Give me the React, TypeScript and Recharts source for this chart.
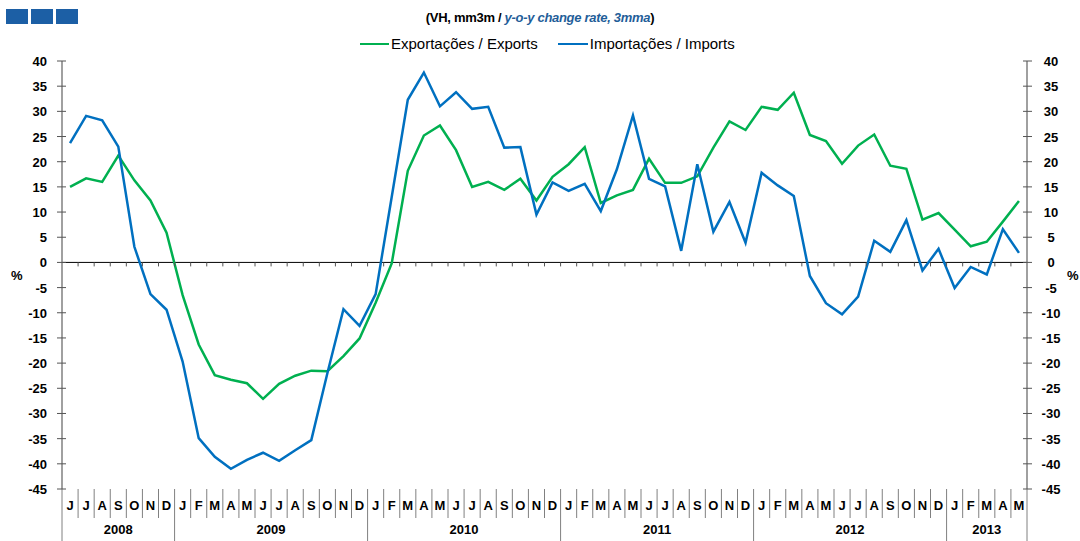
import React from "react";
import { LineChart, Line, XAxis, YAxis, ReferenceLine } from "recharts";

// monthly labels, Jun 2008 .. May 2013
const monthLetters = [
  "J", "J", "A", "S", "O", "N", "D",
  "J", "F", "M", "A", "M", "J", "J", "A", "S", "O", "N", "D",
  "J", "F", "M", "A", "M", "J", "J", "A", "S", "O", "N", "D",
  "J", "F", "M", "A", "M", "J", "J", "A", "S", "O", "N", "D",
  "J", "F", "M", "A", "M", "J", "J", "A", "S", "O", "N", "D",
  "J", "F", "M", "A", "M",
];

const yearLabels = ["2008", "2009", "2010", "2011", "2012", "2013"];
const monthsPerYear = [7, 12, 12, 12, 12, 5];

const exportsYoY = [
  15.0, 16.7, 16.0, 21.2, 16.3, 12.3, 5.9,
  -6.5, -16.3, -22.4, -23.3, -24.0, -27.1, -24.1, -22.5, -21.5, -21.6, -18.6, -15.1,
  -8.0, -0.2, 18.2, 25.2, 27.2, 22.3, 15.0, 16.0, 14.4, 16.6, 12.3, 17.0,
  19.5, 22.9, 11.8, 13.3, 14.4, 20.6, 15.8, 15.8, 17.1, 22.8, 28.0, 26.3,
  30.9, 30.3, 33.7, 25.3, 24.1, 19.6, 23.2, 25.4, 19.2, 18.6, 8.5, 9.8,
  6.5, 3.2, 4.1, 8.1, 12.2,
];

const importsYoY = [
  23.7, 29.1, 28.2, 23.0, 3.1, -6.3, -9.4,
  -19.7, -34.9, -38.6, -41.0, -39.2, -37.8, -39.4, -37.3, -35.3, -22.0, -9.3, -12.6,
  -6.3, 13.0, 32.3, 37.7, 31.0, 33.8, 30.5, 30.9, 22.8, 22.9, 9.5, 15.9,
  14.2, 15.6, 10.2, 18.5, 29.2, 16.6, 15.1, 2.3, 19.5, 6.1, 12.0, 3.9,
  17.8, 15.3, 13.2, -2.7, -8.1, -10.3, -6.8, 4.3, 2.1, 8.4, -1.6, 2.7,
  -5.1, -0.9, -2.4, 6.6, 1.9,
];

const yTicks = [-45, -40, -35, -30, -25, -20, -15, -10, -5, 0, 5, 10, 15, 20, 25, 30, 35, 40];

const W = 1080;
const H = 541;
const PLOT_LEFT = 62;
const PLOT_RIGHT = 1027;
const PLOT_TOP = 61;
const PLOT_BOTTOM = 489;
const Y_MIN = -45;
const Y_MAX = 40;
const BW = (PLOT_RIGHT - PLOT_LEFT) / monthLetters.length;
const ZERO_Y = PLOT_TOP + ((Y_MAX - 0) / (Y_MAX - Y_MIN)) * (PLOT_BOTTOM - PLOT_TOP);

const GREEN = "#00b050";
const BLUE = "#0070c0";
const FONT = "'Liberation Sans', Arial, sans-serif";

const yearStarts: number[] = [];
monthsPerYear.reduce((acc, n) => {
  yearStarts.push(acc);
  return acc + n;
}, 0);

const data = monthLetters.map((m, i) => ({
  key: String(i),
  exp: exportsYoY[i],
  imp: importsYoY[i],
}));

const MonthTick = (props: any) => {
  const { x, payload } = props;
  const i = Number(payload.value);
  const right = x + BW / 2;
  const left = x - BW / 2;
  const isLast = i === monthLetters.length - 1;
  const yearIdx = yearStarts.indexOf(i);
  const yearEnd = yearStarts.includes(i + 1) || isLast;
  return (
    <g>
      {i === 0 && <line x1={left} x2={left} y1={PLOT_BOTTOM} y2={H} stroke="#808080" strokeWidth={1} />}
      <line
        x1={right}
        x2={right}
        y1={PLOT_BOTTOM}
        y2={yearEnd ? H : 518}
        stroke="#808080"
        strokeWidth={1}
      />
      {!isLast && <line x1={right} x2={right} y1={ZERO_Y} y2={ZERO_Y + 4} stroke="#555" strokeWidth={1} />}
      <text x={x} y={510} textAnchor="middle" fontSize={13} fontWeight="bold" fontFamily={FONT} fill="#000">
        {monthLetters[i]}
      </text>
      {yearIdx >= 0 && (
        <text
          x={left + (monthsPerYear[yearIdx] * BW) / 2}
          y={534}
          textAnchor="middle"
          fontSize={13}
          fontWeight="bold"
          fontFamily={FONT}
          fill="#000"
        >
          {yearLabels[yearIdx]}
        </text>
      )}
    </g>
  );
};

const LeftTick = (props: any) => {
  const { y, payload } = props;
  return (
    <g>
      <line x1={PLOT_LEFT - 5} x2={PLOT_LEFT + 4} y1={y} y2={y} stroke="#555" strokeWidth={1} />
      <text x={PLOT_LEFT - 15} y={y + 5} textAnchor="end" fontSize={13} fontWeight="bold" fontFamily={FONT} fill="#000">
        {payload.value}
      </text>
    </g>
  );
};

const RightTick = (props: any) => {
  const { y, payload } = props;
  return (
    <g>
      <line x1={PLOT_RIGHT - 4} x2={PLOT_RIGHT + 5} y1={y} y2={y} stroke="#555" strokeWidth={1} />
      <text x={PLOT_RIGHT + 24} y={y + 5} textAnchor="middle" fontSize={13} fontWeight="bold" fontFamily={FONT} fill="#000">
        {payload.value}
      </text>
    </g>
  );
};

export default function App() {
  return (
    <div style={{ position: "absolute", left: 0, top: 0, width: W, height: H, background: "#fff", fontFamily: FONT }}>
      {/* header squares */}
      <div style={{ position: "absolute", left: 6, top: 9, display: "flex", gap: 3 }}>
        {[0, 1, 2].map((k) => (
          <div key={k} style={{ width: 22, height: 15, background: "#1c5fa5" }} />
        ))}
      </div>

      <div
        style={{
          position: "absolute",
          left: 0,
          width: W,
          top: 10,
          textAlign: "center",
          fontSize: 13,
          fontWeight: "bold",
          color: "#000",
          lineHeight: "16px",
          letterSpacing: -0.3,
        }}
      >
        <span>(VH, mm3m / </span>
        <span style={{ color: "#1f5e99", fontStyle: "italic" }}>y-o-y change rate, 3mma</span>
        <span>)</span>
      </div>

      {/* legend */}
      <div
        style={{
          position: "absolute",
          top: 35,
          left: 360,
          display: "flex",
          alignItems: "center",
          fontSize: 15,
          color: "#000",
          lineHeight: "18px",
        }}
      >
        <span style={{ display: "inline-block", width: 29, height: 2.5, background: GREEN, marginRight: 2 }} />
        <span>Exportações / Exports</span>
        <span style={{ display: "inline-block", width: 30, height: 2.5, background: BLUE, marginLeft: 20, marginRight: 2 }} />
        <span>Importações / Imports</span>
      </div>

      <div style={{ position: "absolute", left: 11, top: 268, fontSize: 13, fontWeight: "bold" }}>%</div>
      <div style={{ position: "absolute", left: 1067, top: 268, fontSize: 13, fontWeight: "bold" }}>%</div>

      <LineChart
        width={W}
        height={H}
        data={data}
        margin={{ top: PLOT_TOP, right: 0, bottom: 0, left: 0 }}
      >
        <XAxis
          dataKey="key"
          height={H - PLOT_BOTTOM}
          axisLine={false}
          tickLine={false}
          interval={0}
          padding={{ left: BW / 2, right: BW / 2 }}
          tick={<MonthTick />}
        />
        <YAxis
          yAxisId="left"
          orientation="left"
          width={PLOT_LEFT}
          domain={[Y_MIN, Y_MAX]}
          ticks={yTicks}
          interval={0}
          axisLine={{ stroke: "#808080", strokeWidth: 1.5 }}
          tickLine={false}
          tick={<LeftTick />}
        />
        <YAxis
          yAxisId="right"
          orientation="right"
          width={W - PLOT_RIGHT}
          domain={[Y_MIN, Y_MAX]}
          ticks={yTicks}
          interval={0}
          axisLine={{ stroke: "#808080", strokeWidth: 1.5 }}
          tickLine={false}
          tick={<RightTick />}
        />
        <ReferenceLine yAxisId="left" y={0} stroke="#000" strokeWidth={1} />
        <Line
          yAxisId="left"
          type="linear"
          dataKey="exp"
          stroke={GREEN}
          strokeWidth={2.5}
          dot={false}
          isAnimationActive={false}
        />
        <Line
          yAxisId="right"
          type="linear"
          dataKey="imp"
          stroke={BLUE}
          strokeWidth={2.5}
          dot={false}
          isAnimationActive={false}
        />
      </LineChart>
    </div>
  );
}
